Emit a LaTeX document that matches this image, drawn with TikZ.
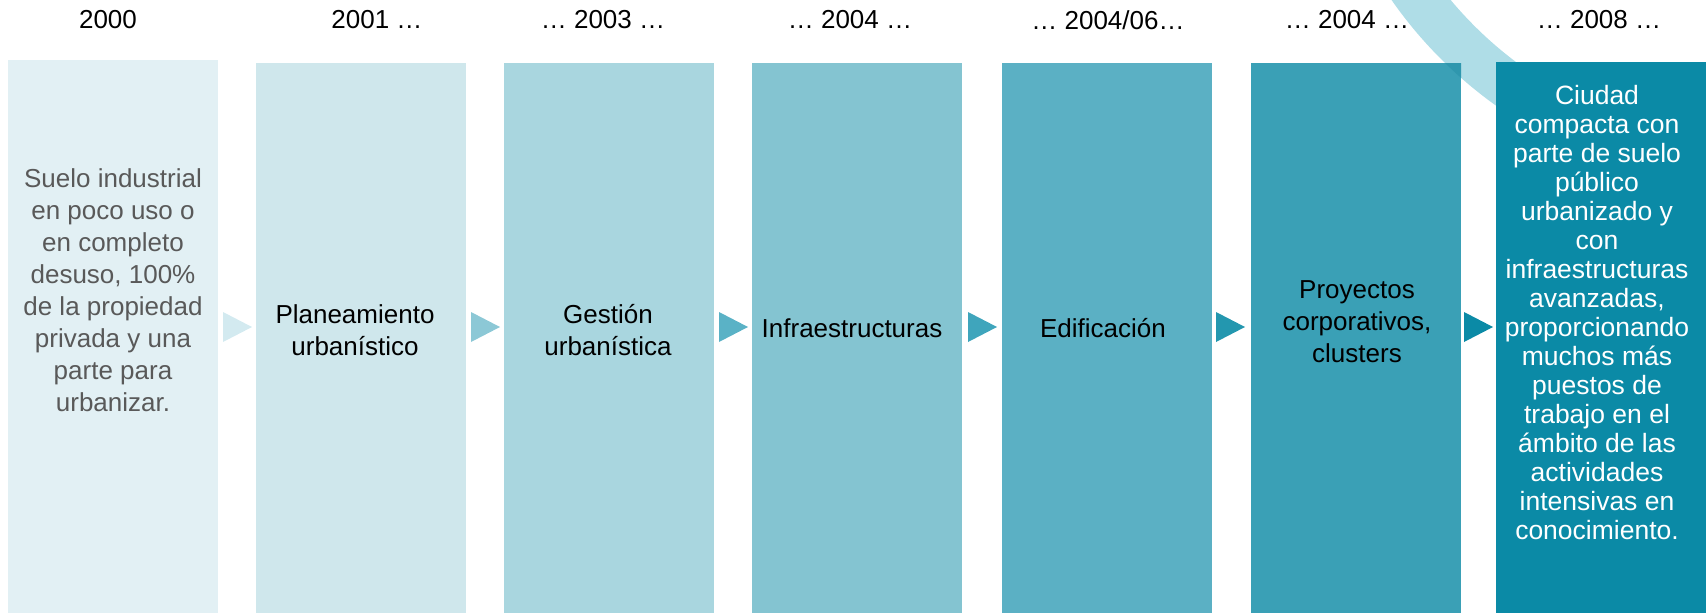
\documentclass[tikz,border=0pt]{standalone}
\usepackage{fontspec}
\setmainfont{Liberation Sans}
\definecolor{cA}{HTML}{E2F0F4}
\definecolor{cB}{HTML}{CFE7EC}
\definecolor{cC}{HTML}{A9D6DF}
\definecolor{cD}{HTML}{84C4D1}
\definecolor{cE}{HTML}{5BB0C4}
\definecolor{cF}{HTML}{3AA0B6}
\definecolor{cG}{HTML}{0B8AA6}
\definecolor{arcblue}{HTML}{AFDDE7}
\definecolor{arcdark}{HTML}{2F97AE}
\definecolor{aA}{HTML}{D3EAF0}
\definecolor{aB}{HTML}{8CC8D6}
\definecolor{aC}{HTML}{5AB2C6}
\definecolor{aD}{HTML}{3FA5BC}
\definecolor{aE}{HTML}{2397AF}
\definecolor{aF}{HTML}{0B8AA6}
\definecolor{graytext}{HTML}{595959}
\tikzset{
  stagebox/.style={rectangle, inner sep=0pt, outer sep=0pt, anchor=north west, minimum width=210pt, minimum height=553pt},
  stagetext/.style={align=center, inner sep=0pt, font=\fontsize{26}{32}\selectfont},
  yearlabel/.style={inner sep=0pt, font=\fontsize{26}{32}\selectfont},
}
\begin{document}
\begin{tikzpicture}[x=1pt,y=-1pt]
\useasboundingbox (0,0) rectangle (1706,613);
% arc band
\begin{scope}
\clip (0,0) rectangle (1706,613);
\fill[arcblue, even odd rule] (1750,-250) circle (437) (1750,-250) circle (390);
\end{scope}
% boxes
\node[stagebox, fill=cA] (b1) at (8,60) {};
\node[stagebox, fill=cB, minimum height=550pt] (b2) at (256,63) {};
\node[stagebox, fill=cC, minimum height=550pt] (b3) at (504,63) {};
\node[stagebox, fill=cD, minimum height=550pt] (b4) at (752,63) {};
\node[stagebox, fill=cE, minimum height=550pt] (b5) at (1002,63) {};
\node[stagebox, fill=cF, minimum height=550pt] (b6) at (1251,63) {};
\begin{scope}
\clip (b6.north west) rectangle (b6.south east);
\fill[arcdark, even odd rule] (1750,-250) circle (437) (1750,-250) circle (390);
\end{scope}
\node[stagebox, fill=cG, minimum height=551pt] (b7) at (1496,62) {};
% arrows
\fill[aA] (223,312) -- (252,327) -- (223,342) -- cycle;
\fill[aB] (471,312) -- (500,327) -- (471,342) -- cycle;
\fill[aC] (719,312) -- (748,327) -- (719,342) -- cycle;
\fill[aD] (968,312) -- (997,327) -- (968,342) -- cycle;
\fill[aE] (1216,312) -- (1245,327) -- (1216,342) -- cycle;
\fill[aF] (1464,312) -- (1493,327) -- (1464,342) -- cycle;
% year labels
\node[yearlabel] (y1) at (108,20) {2000};
\node[yearlabel] (y2) at (377,20) {2001 …};
\node[yearlabel] (y3) at (603,20) {… 2003 …};
\node[yearlabel] (y4) at (850,20) {… 2004 …};
\node[yearlabel] (y5) at (1108,20) {… 2004/06…};
\node[yearlabel] (y6) at (1347,20) {… 2004 …};
\node[yearlabel] (y7) at (1599,20) {… 2008 …};
% texts
\node[stagetext, text=graytext] (t1) at (113,290) {Suelo industrial\\en poco uso o\\en completo\\desuso, 100\%\\de la propiedad\\privada y una\\parte para\\urbanizar.};
\node[stagetext] (t2) at (355,330) {Planeamiento\\urbanístico};
\node[stagetext] (t3) at (608,330) {Gestión\\urbanística};
\node[stagetext] (t4) at (852,328) {Infraestructuras};
\node[stagetext] (t5) at (1103,328) {Edificación};
\node[stagetext] (t6) at (1357,321.5) {Proyectos\\corporativos,\\clusters};
\node[stagetext, text=white, font=\fontsize{26.5}{29}\selectfont] (t7) at (1597,313) {Ciudad\\compacta con\\parte de suelo\\público\\urbanizado y\\con\\infraestructuras\\avanzadas,\\proporcionando\\muchos más\\puestos de\\trabajo en el\\ámbito de las\\actividades\\intensivas en\\conocimiento.};
\end{tikzpicture}
\end{document}
